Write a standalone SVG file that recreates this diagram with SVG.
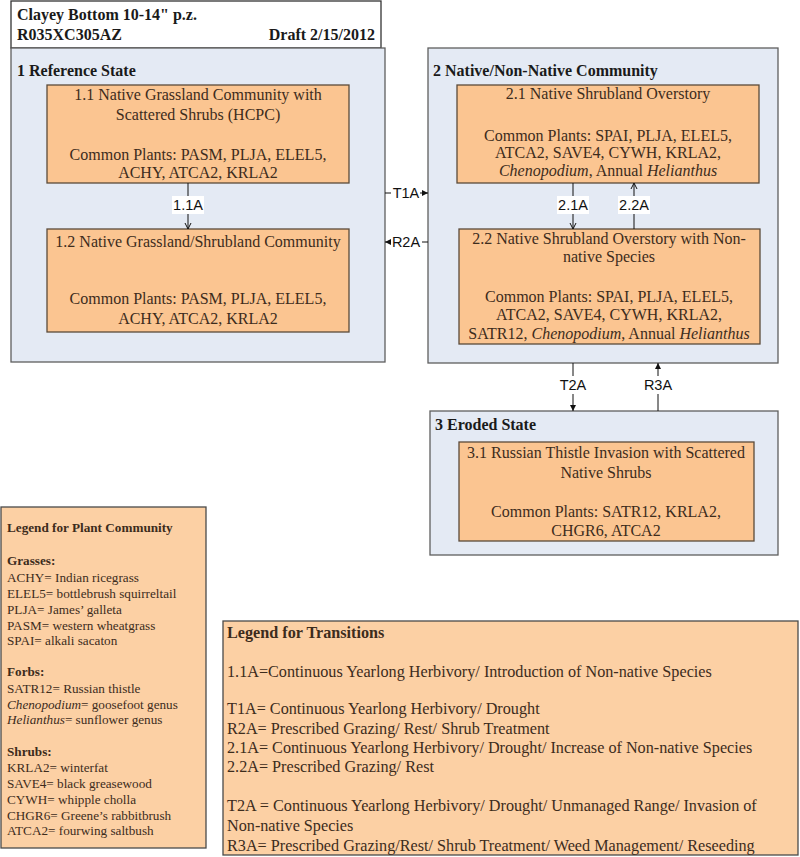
<svg xmlns="http://www.w3.org/2000/svg" width="800" height="857" viewBox="0 0 800 857">
<style>
.state{fill:#e4eaf4;stroke:#5f5f5f;stroke-width:1.3}
.comm{fill:#fbc591;stroke:#5a4a3a;stroke-width:1.3}
.leg{fill:#fcd0a4;stroke:#4a4a4a;stroke-width:1.3}
.hdr{fill:#ffffff;stroke:#333;stroke-width:1.3}
.t{font-family:"Liberation Serif","Times New Roman",serif;font-size:16px;fill:#3d2c1c}
.c{text-anchor:middle}
.b{font-weight:bold;fill:#1a1a1a}
.lbl{font-family:"Liberation Sans",Arial,sans-serif;font-size:14.5px;fill:#111;text-anchor:middle}
.ln{stroke:#111;stroke-width:1;fill:none}
.lg{font-family:"Liberation Serif","Times New Roman",serif;font-size:13.2px;fill:#3d2c1c}
.lt{font-family:"Liberation Serif","Times New Roman",serif;font-size:16.2px;fill:#3d2c1c}
</style>
<defs>
<marker id="open" markerWidth="8" markerHeight="8" refX="7" refY="4" orient="auto" markerUnits="userSpaceOnUse">
<path d="M1,1 L7,4 L1,7" fill="none" stroke="#111" stroke-width="1"/>
</marker>
<marker id="fill" markerWidth="7" markerHeight="7" refX="6" refY="3.5" orient="auto" markerUnits="userSpaceOnUse">
<path d="M0,0.5 L6,3.5 L0,6.5 Z" fill="#111"/>
</marker>
</defs>

<g id="header">
<rect class="hdr" x="11" y="1" width="370" height="47"/>
<text class="t b" x="17" y="20">Clayey Bottom 10-14" p.z.</text>
<text class="t b" x="17" y="40">R035XC305AZ</text>
<text class="t b" x="375" y="40" text-anchor="end">Draft 2/15/2012</text>
</g>

<g id="state1">
<rect class="state" x="11" y="48" width="374" height="314"/>
<text class="t b" x="17" y="76">1 Reference State</text>
</g>
<g id="state2">
<rect class="state" x="428" y="48" width="350" height="315"/>
<text class="t b" x="433" y="76">2 Native/Non-Native Community</text>
</g>
<g id="state3">
<rect class="state" x="430" y="411" width="348" height="144"/>
<text class="t b" x="435" y="430">3 Eroded State</text>
</g>

<g id="c11">
<rect class="comm" x="47" y="85" width="302" height="98"/>
<text class="t c" x="198" y="100">1.1  Native Grassland Community with</text>
<text class="t c" x="198" y="120">Scattered Shrubs (HCPC)</text>
<text class="t c" x="198" y="160">Common Plants:  PASM, PLJA, ELEL5,</text>
<text class="t c" x="198" y="178">ACHY, ATCA2, KRLA2</text>
</g>
<g id="c12">
<rect class="comm" x="47" y="229" width="302" height="103"/>
<text class="t c" x="198" y="247">1.2 Native Grassland/Shrubland Community</text>
<text class="t c" x="198" y="304">Common Plants: PASM, PLJA, ELEL5,</text>
<text class="t c" x="198" y="324">ACHY, ATCA2, KRLA2</text>
</g>
<g id="c21">
<rect class="comm" x="457" y="85" width="302" height="98"/>
<text class="t c" x="608" y="99">2.1 Native Shrubland Overstory</text>
<text class="t c" x="608" y="141">Common Plants: SPAI, PLJA, ELEL5,</text>
<text class="t c" x="608" y="158">ATCA2, SAVE4, CYWH, KRLA2,</text>
<text class="t c" x="608" y="176"><tspan font-style="italic">Chenopodium</tspan>, Annual <tspan font-style="italic">Helianthus</tspan></text>
</g>
<g id="c22">
<rect class="comm" x="459" y="229" width="301" height="115"/>
<text class="t c" x="609" y="244">2.2 Native Shrubland Overstory with Non-</text>
<text class="t c" x="609" y="262">native Species</text>
<text class="t c" x="609" y="302">Common Plants: SPAI, PLJA, ELEL5,</text>
<text class="t c" x="609" y="320">ATCA2, SAVE4, CYWH, KRLA2,</text>
<text class="t c" x="609" y="339">SATR12, <tspan font-style="italic">Chenopodium</tspan>, Annual <tspan font-style="italic">Helianthus</tspan></text>
</g>
<g id="c31">
<rect class="comm" x="459" y="442" width="295" height="99"/>
<text class="t c" x="606" y="458">3.1 Russian Thistle Invasion with Scattered</text>
<text class="t c" x="606" y="478">Native Shrubs</text>
<text class="t c" x="606" y="517">Common Plants: SATR12, KRLA2,</text>
<text class="t c" x="606" y="536">CHGR6, ATCA2</text>
</g>

<g id="connectors">
<line class="ln" x1="188" y1="183" x2="188" y2="229" marker-end="url(#open)"/>
<line class="ln" x1="573" y1="183" x2="573" y2="229" marker-end="url(#open)"/>
<line class="ln" x1="634" y1="229" x2="634" y2="183" marker-end="url(#open)"/>
<line class="ln" x1="385" y1="193" x2="428" y2="193" marker-end="url(#fill)"/>
<line class="ln" x1="428" y1="242" x2="385" y2="242" marker-end="url(#fill)"/>
<line class="ln" x1="573" y1="363" x2="573" y2="411" marker-end="url(#fill)"/>
<line class="ln" x1="658" y1="411" x2="658" y2="363" marker-end="url(#fill)"/>
<rect x="172" y="196" width="32" height="18" fill="#fff"/>
<text class="lbl" x="188" y="210">1.1A</text>
<rect x="557" y="196" width="32" height="18" fill="#fff"/>
<text class="lbl" x="573" y="210">2.1A</text>
<rect x="618" y="196" width="32" height="18" fill="#fff"/>
<text class="lbl" x="634" y="210">2.2A</text>
<rect x="391" y="185" width="29" height="16" fill="#fff"/>
<text class="lbl" x="406" y="198">T1A</text>
<rect x="391" y="234" width="31" height="16" fill="#fff"/>
<text class="lbl" x="406" y="247">R2A</text>
<rect x="557" y="376" width="32" height="18" fill="#fff"/>
<text class="lbl" x="573" y="390">T2A</text>
<rect x="642" y="376" width="32" height="18" fill="#fff"/>
<text class="lbl" x="658" y="390">R3A</text>
</g>

<g id="legend-plants">
<rect class="leg" x="1" y="507" width="205" height="341"/>
<text class="lg b" x="7" y="532">Legend for Plant Community</text>
<text class="lg b" x="7" y="565">Grasses:</text>
<text class="lg" x="7" y="582">ACHY= Indian ricegrass</text>
<text class="lg" x="7" y="598">ELEL5= bottlebrush squirreltail</text>
<text class="lg" x="7" y="614">PLJA= James’ galleta</text>
<text class="lg" x="7" y="630">PASM= western wheatgrass</text>
<text class="lg" x="7" y="645">SPAI= alkali sacaton</text>
<text class="lg b" x="7" y="676">Forbs:</text>
<text class="lg" x="7" y="693">SATR12= Russian thistle</text>
<text class="lg" x="7" y="709"><tspan font-style="italic">Chenopodium</tspan>= goosefoot genus</text>
<text class="lg" x="7" y="724"><tspan font-style="italic">Helianthus</tspan>= sunflower genus</text>
<text class="lg b" x="7" y="756">Shrubs:</text>
<text class="lg" x="7" y="772">KRLA2= winterfat</text>
<text class="lg" x="7" y="788">SAVE4= black greasewood</text>
<text class="lg" x="7" y="804">CYWH= whipple cholla</text>
<text class="lg" x="7" y="820">CHGR6= Greene’s rabbitbrush</text>
<text class="lg" x="7" y="835">ATCA2= fourwing saltbush</text>
</g>

<g id="legend-transitions">
<rect class="leg" x="223" y="621" width="575" height="234"/>
<text class="lt b" x="227" y="638">Legend for Transitions</text>
<text class="lt" x="227" y="677">1.1A=Continuous Yearlong Herbivory/ Introduction of Non-native Species</text>
<text class="lt" x="227" y="714">T1A= Continuous Yearlong Herbivory/ Drought</text>
<text class="lt" x="227" y="734">R2A= Prescribed Grazing/ Rest/ Shrub Treatment</text>
<text class="lt" x="227" y="753">2.1A= Continuous Yearlong Herbivory/ Drought/ Increase of Non-native Species</text>
<text class="lt" x="227" y="772">2.2A= Prescribed Grazing/ Rest</text>
<text class="lt" x="227" y="811">T2A = Continuous Yearlong Herbivory/ Drought/ Unmanaged Range/ Invasion of</text>
<text class="lt" x="227" y="831">Non-native Species</text>
<text class="lt" x="227" y="851">R3A= Prescribed Grazing/Rest/ Shrub Treatment/ Weed Management/ Reseeding</text>
</g>
</svg>
